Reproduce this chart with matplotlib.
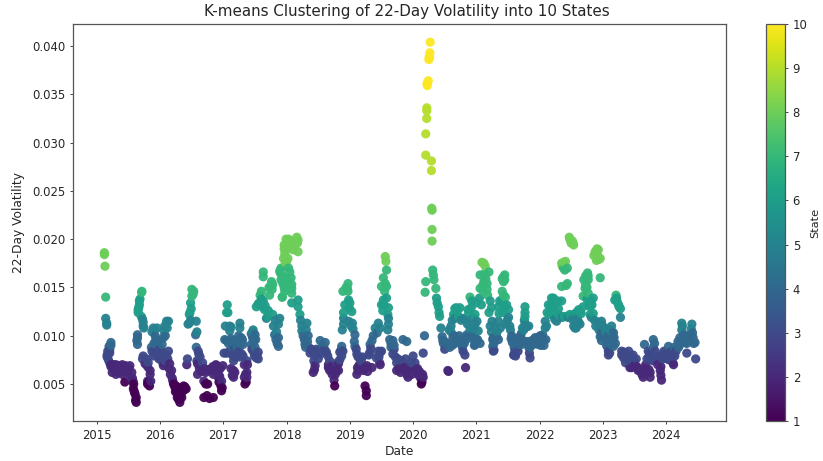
import numpy as np
import matplotlib
matplotlib.use("Agg")
import matplotlib.pyplot as plt

# (fraction of year, volatility in thousandths)
pts_2015 = [(.116,18.6),(.116,18.4),(.126,17.2),(.137,14.0),(.137,11.8),(.153,11.3),(.153,11.1),
(.22,9.3),(.22,9.0),(.2,8.6),(.2,8.4),(.2,8.2),(.16,8.0),(.16,7.8),(.18,7.5),(.2,7.2),(.22,7.0),(.22,6.8),
(.26,7.0),(.26,6.6),(.3,7.0),(.3,6.4),(.3,6.0),(.35,6.9),(.35,6.2),(.4,7.0),(.4,6.4),(.4,6.0),(.45,6.9),(.45,6.4),
(.44,5.2),(.57,5.3),(.55,6.2),(.52,6.9),(.575,4.5),(.6,4.0),(.62,3.6),(.62,3.1),
(.705,14.5),(.71,14.6),(.67,13.6),(.67,13.2),(.65,12.7),(.65,12.4),(.7,12.0),(.73,11.4),(.73,11.0),(.64,10.1),(.64,9.8),(.64,9.1),
(.73,7.9),(.81,7.2),(.76,7.1),(.84,6.4),(.8,5.3),(.83,4.8),(.82,5.2),(.89,10.8),(.95,10.8),(.92,10.0),(.97,9.5),(.86,8.8),(.99,8.6),(.89,7.9),(.99,7.9),
(.17,8.4),(.19,8.9),(.24,6.2),(.28,6.8),(.33,6.6),(.37,6.4),(.42,6.6),(.48,6.2),(.5,6.6),(.53,5.7),(.56,5.6),(.58,5.0),(.59,4.2),(.61,3.3),(.68,13.8),(.66,12.9),(.72,11.7),(.74,10.8),(.63,9.5),
(.72,7.6),(.78,7.6),(.8,6.8),(.84,6.0),(.8,5.0),(.85,5.3),(.87,10.4),(.91,10.6),(.93,9.6),(.9,9.2),(.96,9.0),(.87,8.4),(.93,8.2),(.96,8.2),(.98,7.6)]
pts_2016 = [(.1,11.5),(.13,11.5),(.07,11.0),(.06,10.5),(.05,9.8),(.03,9.1),(.13,8.4),(.0,7.7),(.05,6.9),(.15,7.1),(.18,6.4),(.2,5.3),
(.23,4.7),(.28,4.0),(.31,3.1),(.34,3.6),(.39,4.7),(.36,4.3),(.41,4.5),(.26,4.3),
(.5,14.8),(.53,14.6),(.5,14.1),(.48,13.4),(.47,12.4),(.46,12.2),(.46,11.3),(.57,11.5),(.56,10.1),(.57,8.8),(.61,8.1),(.43,7.6),(.42,7.0),
(.59,7.1),(.59,6.0),(.67,7.2),(.69,5.3),(.75,5.0),(.69,3.6),(.78,3.5),(.84,3.6),(.75,6.4),(.89,6.9),(.84,6.0),(.97,4.3),(.98,4.6),(.97,5.3),(.99,6.9),(.92,5.7),
(.02,8.4),(.08,10.0),(.11,10.8),(.04,7.2),(.08,7.4),(.1,8.0),(.12,7.6),(.14,6.6),(.16,6.0),(.19,5.6),(.21,5.0),(.24,4.2),(.27,3.6),(.29,3.4),(.31,3.8),(.33,4.0),(.37,4.8),(.38,4.4),(.25,4.8),(.29,4.6),
(.52,14.3),(.49,12.8),(.44,11.2),(.48,11.6),(.58,10.4),(.6,8.4),(.63,7.8),(.58,7.4),(.62,6.6),(.65,6.3),(.7,6.6),(.72,6.2),(.77,6.5),(.72,5.0),(.74,3.8),(.8,6.4),(.83,6.8),(.87,6.4),(.88,7.0),(.91,6.2),(.94,5.8),(.95,6.6),(.96,4.8),(.93,5.2)]
pts_2017 = [(.01,8.2),(.06,13.2),(.07,12.4),(.05,12.4),(.03,11.0),(.1,11.0),(.1,10.5),(.05,9.5),(.16,9.5),(.16,7.4),(.16,6.4),(.16,5.7),(.18,8.6),
(.26,11.3),(.26,10.8),(.28,9.8),(.21,8.8),(.31,9.1),(.29,8.1),(.37,7.4),(.37,6.2),(.34,5.0),(.37,5.7),(.47,10.6),(.5,10.1),(.44,9.1),(.47,8.4),(.55,8.3),(.55,7.6),
(.63,16.6),(.63,16.1),(.6,14.6),(.76,15.6),(.78,15.3),(.73,14.2),(.57,13.4),(.52,13.0),(.65,12.7),(.68,11.8),(.78,12.2),(.89,11.8),(.79,11.0),(.87,11.2),(.81,10.1),(.87,9.8),(.87,8.9),
(.93,14.0),(.9,16.5),(.93,14.0),(.96,19.0),(.97,18.5),(.97,16.0),(.99,20.0),
(.02,9.6),(.08,9.2),(.12,9.7),(.14,8.8),(.12,10.9),(.14,8.0),(.1,8.4),(.05,8.2),(.12,6.6),(.14,5.9),(.18,6.2),(.18,7.8),(.2,9.4),(.24,10.0),(.25,8.4),(.27,9.2),(.3,9.6),(.31,7.9),(.26,7.8),(.33,7.0),(.35,6.0),(.36,5.2),(.33,5.7),(.38,7.0),
(.44,10.2),(.46,9.8),(.48,9.4),(.5,8.8),(.45,8.6),(.49,7.9),(.53,8.0),(.52,7.7),(.46,10.4),(.51,9.6),(.58,14.2),(.6,13.8),(.62,13.0),(.55,13.3),(.63,13.6),(.66,13.1),(.72,15.0),(.75,15.2),(.77,14.8),(.71,12.6),(.7,12.0),(.82,11.6),(.84,10.4),(.83,9.6),(.85,9.2),
(.89,16.7),(.91,15.8),(.94,15.4),(.93,16.2),(.96,15.0),(.97,14.6),(.91,17.0),(.95,18.0),(.98,17.6),(.96,19.4),(.98,19.0)]
pts_2018 = [(.0,17.7),(.03,20.0),(.16,20.2),(.18,19.9),(.18,18.7),(.1,18.9),(.0,19.0),(.05,19.4),(.13,19.4),(.02,18.0),(.05,16.6),(.08,15.3),(.08,14.4),(.08,13.4),
(.18,13.7),(.18,13.0),(.21,12.2),(.24,11.0),(.32,11.3),(.26,10.0),(.34,10.0),(.29,9.1),(.39,8.6),(.45,6.9),(.42,6.2),(.53,9.5),(.61,9.3),(.53,8.1),(.63,8.3),(.68,7.4),(.68,6.4),(.76,4.8),(.79,6.4),
(.87,8.9),(.87,7.9),(.82,7.1),(.84,8.3),(.89,8.4),(.97,15.4),(.96,14.9),(.89,14.6),(.97,14.6),(.98,13.7),(.9,12.4),(.9,11.8),(.88,10.6),(.98,11.5),
(.09,19.8),(.17,19.6),(.03,17.0),(.07,16.0),(.04,15.6),(.08,14.9),(.22,11.6),(.24,10.5),(.31,10.6),(.28,9.6),(.33,9.4),(.3,8.8),(.35,8.8),(.37,8.2),(.42,8.4),(.44,8.0),(.47,8.6),(.5,8.3),(.43,7.4),(.44,6.5),(.5,7.6),
(.55,8.6),(.57,9.0),(.6,8.6),(.65,7.9),(.66,7.0),(.66,6.7),(.7,6.8),(.72,6.0),(.73,6.5),(.75,5.4),(.77,6.0),(.75,6.8),(.8,7.2),(.82,6.4),(.84,7.5),(.86,8.5),(.9,11.2),(.92,13.2),(.94,15.0),(.99,12.9)]
pts_2019 = [(.0,13.4),(.03,12.5),(.05,10.7),(.08,10.1),(.08,8.9),(.11,8.1),(.16,7.7),(.13,6.4),(.11,6.0),(.24,4.8),(.26,4.3),(.26,3.8),(.35,6.7),(.21,6.4),(.3,8.0),(.32,9.1),(.4,10.8),(.45,11.3),(.48,10.8),(.48,8.3),(.48,7.0),(.42,7.7),
(.56,18.2),(.57,17.7),(.58,16.8),(.53,16.0),(.5,15.1),(.58,15.1),(.53,13.7),(.58,13.9),(.5,13.2),(.61,12.9),(.61,11.8),(.61,11.2),(.63,9.6),(.68,9.5),(.65,8.8),(.68,8.1),(.74,7.2),(.74,6.4),(.82,7.4),(.84,9.6),(.9,9.4),(.92,6.7),(.92,5.7),
(.02,11.0),(.04,11.3),(.07,9.4),(.1,8.6),(.13,7.8),(.15,7.0),(.12,6.7),(.18,7.4),(.2,7.8),(.24,6.7),(.27,6.9),(.28,6.3),(.31,8.2),(.33,8.7),(.35,9.5),(.37,10.0),(.43,10.3),(.45,8.4),(.46,7.8),(.47,7.2),(.5,8.4),
(.55,14.6),(.56,15.4),(.52,12.6),(.54,13.2),(.6,12.2),(.6,10.6),(.65,9.2),(.7,9.0),(.7,8.6),(.72,7.8),(.76,7.6),(.77,6.6),(.8,6.2),(.84,6.6),(.87,6.8),(.88,7.6),(.9,6.0),(.93,6.3),(.96,6.6),(.97,7.2),(.98,6.0)]
pts_2020 = [(.0,7.9),(.08,6.0),(.16,5.7),(.13,5.0),(.16,8.2),(.18,10.0),(.27,40.4),(.265,39.3),(.255,38.9),(.25,38.6),(.26,38.8),(.24,36.4),(.225,35.9),(.22,36.1),(.217,33.6),(.217,33.3),(.215,32.5),(.2,30.9),(.2,28.7),(.29,28.1),(.29,27.1),(.295,23.2),
(.3,23.0),(.3,21.0),(.3,19.8),(.2,15.6),(.19,14.5),(.31,16.8),(.32,16.3),(.33,15.8),(.36,14.9),(.37,13.9),(.38,13.4),(.42,12.0),(.44,10.8),(.47,9.5),(.5,8.6),(.55,6.4),(.56,6.3),(.83,6.7),
(.63,9.8),(.68,12.9),(.74,12.9),(.6,11.0),(.66,11.8),(.65,10.0),(.73,10.0),(.79,8.4),(.82,8.0),(.9,14.0),(.87,12.7),(.92,12.9),(.98,12.2),(.98,11.2),(.9,11.1),(.85,10.1),(.92,10.0),(.98,9.8),(.98,9.1),
(.03,7.2),(.05,6.4),(.07,6.6),(.1,6.3),(.11,5.7),(.14,5.2),(.15,6.0),(.4,13.0),(.41,12.4),(.46,9.9),(.48,9.2),(.5,9.4),(.52,9.2),(.55,9.2),(.58,8.8),(.62,9.0),(.66,9.2),(.7,9.4),(.73,9.6),(.76,9.2),(.78,8.8),(.81,9.2),(.84,9.6),(.88,10.0),(.9,10.6),
(.57,10.6),(.6,10.4),(.62,11.6),(.64,12.2),(.66,12.8),(.7,12.6),(.72,12.0),(.76,11.6),(.8,11.8),(.83,11.7),(.86,11.2),(.88,12.4),(.93,13.6),(.95,11.8),(.96,10.7),(.97,9.5),(.97,9.0),(.99,13.4)]
pts_2021 = [(.05,13.9),(.03,10.5),(.09,17.6),(.12,17.5),(.2,16.6),(.06,16.3),(.12,15.6),(.06,14.9),(.17,14.8),(.22,13.6),(.24,12.9),(.25,11.5),(.3,10.8),(.27,9.8),(.27,8.4),
(.43,16.1),(.43,15.6),(.43,14.2),(.46,14.0),(.35,13.0),(.35,11.5),(.38,10.8),(.48,13.2),(.43,13.2),(.51,12.7),(.51,11.9),(.47,11.2),(.54,10.6),(.56,10.0),(.62,9.5),(.6,8.8),(.62,7.9),(.59,8.0),(.72,9.1),(.67,9.1),
(.77,13.0),(.77,12.4),(.77,12.0),(.77,11.2),(.75,10.6),(.85,8.8),(.85,7.7),(.88,9.5),(.93,9.8),(.83,11.0),(.9,9.1),
(.01,11.5),(.02,9.6),(.06,9.2),(.08,13.2),(.1,15.2),(.11,14.6),(.13,16.4),(.15,15.9),(.14,17.2),(.18,14.2),(.17,15.4),(.2,12.4),(.22,11.0),(.24,10.4),(.26,9.6),(.28,9.2),(.26,8.9),(.28,8.5),(.32,9.9),(.35,9.6),(.33,10.4),(.36,12.3),(.37,13.6),(.4,13.7),(.44,12.8),(.42,12.4),(.45,15.8),(.41,15.9),(.45,16.3),(.41,14.6),
(.49,11.6),(.53,11.0),(.55,9.7),(.57,9.3),(.59,9.7),(.61,8.4),(.6,8.0),(.64,8.8),(.66,8.4),(.69,9.9),(.71,10.2),(.73,10.8),(.76,11.6),(.74,9.5),(.79,10.9),(.81,9.4),(.83,8.8),(.84,8.2),(.86,9.0),(.9,9.4),(.95,9.5),(.97,9.8),(.98,9.1)]
pts_2022 = [(.01,10.0),(.06,9.5),(.09,10.8),(.09,11.5),(.12,12.4),(.14,13.2),(.19,13.9),(.22,13.9),(.22,12.9),(.27,11.5),(.35,13.6),(.35,15.1),(.44,15.4),(.41,17.7),(.35,17.5),(.38,17.0),(.44,17.0),
(.47,20.2),(.49,19.9),(.54,19.4),(.5,19.8),(.43,12.0),(.48,12.2),(.62,12.7),(.64,12.5),(.56,10.8),(.64,11.2),(.56,11.9),(.75,16.1),(.7,15.8),(.77,16.2),(.77,15.8),(.72,14.9),(.77,14.4),(.69,14.1),
(.88,18.7),(.93,18.9),(.96,18.0),(.9,17.8),(.96,16.0),(.85,13.9),(.8,13.0),(.85,12.3),(.82,11.9),(.98,11.5),(.98,10.3),
(.02,9.0),(.03,9.6),(.05,10.1),(.07,9.0),(.1,9.6),(.11,11.0),(.15,12.2),(.17,13.0),(.2,13.4),(.2,12.3),(.24,11.7),(.27,11.8),(.3,12.2),(.33,12.0),(.36,11.9),(.39,12.0),(.29,13.6),(.3,12.8),(.36,17.2),(.38,17.6),(.4,16.8),(.42,15.2),
(.48,20.0),(.5,19.6),(.52,19.8),(.53,19.6),(.45,11.9),(.5,12.0),(.52,11.7),(.55,12.2),(.58,12.4),(.6,11.8),(.54,11.0),(.58,10.8),(.6,11.2),(.62,11.4),(.66,12.3),(.69,13.0),(.73,16.2),(.76,16.5),(.73,15.3),(.75,15.0),(.75,13.8),(.78,13.2),(.81,13.6),(.83,13.2),(.8,12.2),(.87,11.6),
(.9,18.6),(.92,18.3),(.94,17.9),(.86,18.3),(.91,19.0),(.89,11.0),(.92,11.4),(.94,10.6),(.96,9.9),(.98,9.5),(.99,11.1)]
pts_2023 = [(.04,10.8),(.14,11.0),(.17,10.3),(.09,10.0),(.2,9.2),(.09,8.4),(.09,8.0),(.21,14.2),(.19,13.7),(.25,13.2),(.28,12.8),(.28,11.9),(.3,8.4),(.33,7.7),(.41,8.4),(.43,6.7),(.48,8.0),(.51,7.0),(.56,6.4),(.64,5.7),
(.66,9.1),(.72,8.4),(.8,9.6),(.75,5.7),(.8,7.4),(.91,6.4),(.93,5.4),(.98,7.7),
(.02,9.9),(.05,10.4),(.07,9.6),(.12,10.6),(.15,10.4),(.06,9.0),(.12,9.1),(.16,9.6),(.18,9.8),(.17,8.9),(.08,8.8),(.11,8.2),(.22,13.9),(.23,13.5),(.26,13.0),(.3,8.0),(.33,8.3),(.35,8.2),(.37,7.9),(.39,7.7),(.42,8.0),(.36,7.2),(.4,7.5),(.44,7.2),(.46,6.7),
(.5,7.3),(.53,7.6),(.54,6.8),(.58,6.5),(.6,6.4),(.62,6.0),(.66,6.6),(.68,7.0),(.7,7.6),(.73,7.8),(.75,8.2),(.77,7.9),(.78,7.5),(.8,8.8),(.82,9.2),(.83,8.4),(.73,6.5),(.75,6.2),(.85,7.6),(.87,7.0),(.9,7.9),(.92,5.9),(.92,6.8),(.95,7.6),(.96,8.0),(.97,8.4),(.99,7.8)]
pts_2024 = [(.04,8.9),(.09,8.4),(.12,7.0),(.25,11.3),(.41,11.2),(.25,10.6),(.22,9.8),(.46,9.3),(.33,8.2),(.47,7.6),(.2,8.8),(.14,7.9),(.43,9.8),(.33,10.0),
(.01,8.3),(.02,7.6),(.05,7.5),(.06,8.2),(.07,8.0),(.1,7.8),(.11,7.2),(.12,8.4),(.13,8.8),(.16,8.4),(.19,9.4),(.21,9.0),(.23,9.2),(.26,11.0),(.28,10.1),(.3,9.3),(.33,9.2),(.36,9.6),(.38,10.0),(.4,10.7),(.42,10.3),(.44,9.2)]
years = [2015,2016,2017,2018,2019,2020,2021,2022,2023,2024]
yearly_points = [pts_2015,pts_2016,pts_2017,pts_2018,pts_2019,pts_2020,pts_2021,pts_2022,pts_2023,pts_2024]
state_centres = [4.2,6.3,8.0,9.6,11.1,12.8,15.0,19.0,30.5,38.0]
tick_years = [2015,2016,2017,2018,2019,2020,2021,2022,2023,2024]

dates = np.array([y+p[0] for y,ps in zip(years,yearly_points) for p in ps])
vols = np.array([p[1] for ps in yearly_points for p in ps])
order = np.argsort(dates); dates = dates[order]; vols = vols[order]
states = np.abs(vols[:,None]-np.array(state_centres)).argmin(axis=1)+1

plt.rcParams.update({'font.family':'DejaVu Sans','text.color':'#262626','axes.labelcolor':'#262626',
    'xtick.labelcolor':'#262626','ytick.labelcolor':'#262626'})
W,H = 823,461
fig = plt.figure(figsize=(W/100,H/100),dpi=100)
ax = fig.add_axes([73/W,1-421/H,(726-73)/W,(421-24)/H])
sc = ax.scatter(dates,vols/1000,c=states,cmap='viridis',vmin=1,vmax=10,s=44,alpha=.95,linewidths=0)
ax.set_xlim(2014.62,2024.95); ax.set_ylim(.00117,.04228)
ax.set_xticks(tick_years); ax.set_xticklabels([str(t) for t in tick_years])
ax.set_yticks([.005,.01,.015,.02,.025,.03,.035,.04])
ax.set_yticklabels(['0.005','0.010','0.015','0.020','0.025','0.030','0.035','0.040'])
ax.tick_params(labelsize=8.4,length=2.5,width=.7,color='#444444',pad=3)
ax.set_xlabel('Date',fontsize=8.8,labelpad=2.5)
ax.set_ylabel('22-Day Volatility',fontsize=8.8,labelpad=5)
ax.set_title('K-means Clustering of 22-Day Volatility into 10 States',fontsize=10.9,pad=6,x=0.511)
for s in ax.spines.values(): s.set_color('#555555'); s.set_linewidth(.9)
cax = fig.add_axes([766/W,1-421/H,19/W,(421-24)/H])
cb = fig.colorbar(sc,cax=cax,ticks=range(1,11))
cb.solids.set_alpha(1)
cb.ax.tick_params(labelsize=8.4,length=2.5,width=.7,color='#444444',pad=3)
cb.set_label('State',fontsize=8.2,labelpad=2)
cb.outline.set_edgecolor('#555555'); cb.outline.set_linewidth(.9)
fig.savefig('out.png',dpi=100)
